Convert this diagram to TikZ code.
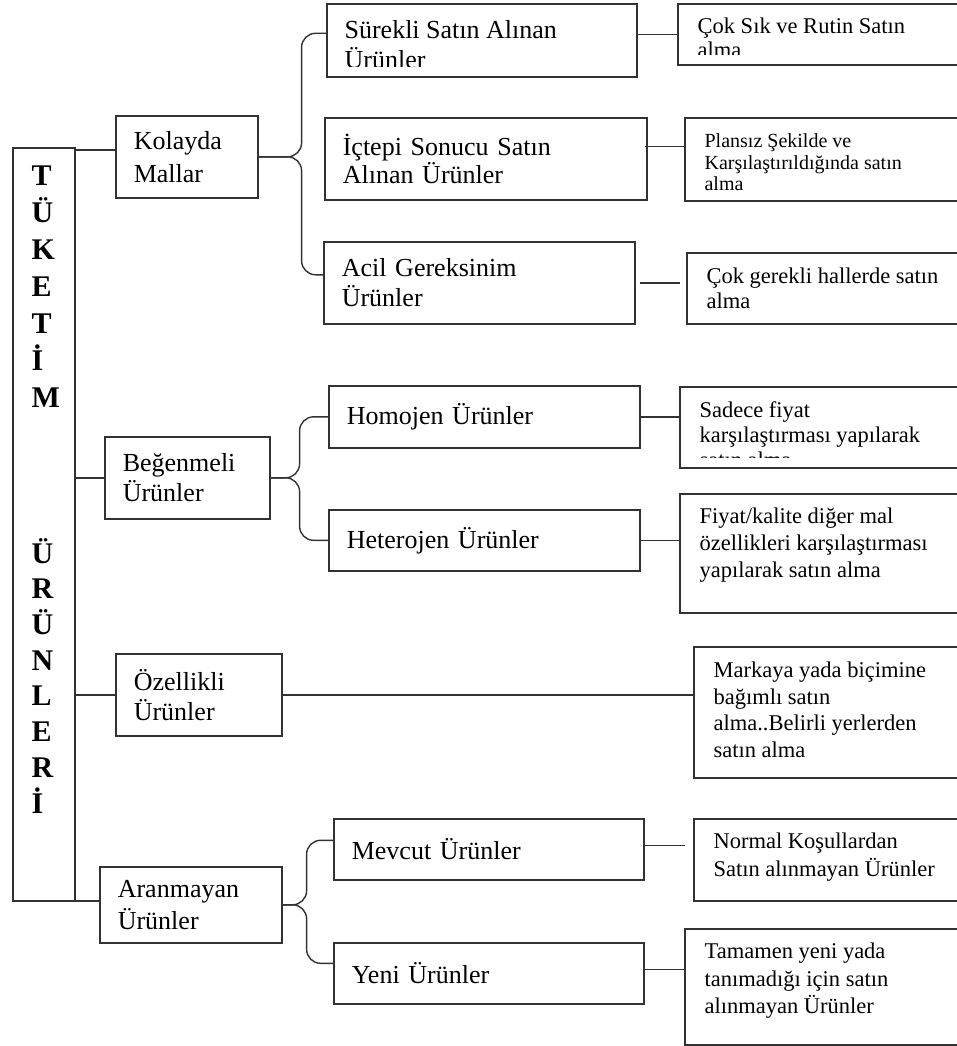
\documentclass[tikz,border=0pt]{standalone}
\usepackage{fontspec}
\setmainfont{Liberation Serif}
\usetikzlibrary{calc}
\definecolor{boxgray}{RGB}{50,50,50}
\tikzset{every picture/.style={line width=1.4pt}}
\tikzset{
  catbox/.style={draw=boxgray, line width=1.6pt, anchor=north west, align=left, inner xsep=18pt, inner ysep=0pt, font=\fontsize{26}{30}\selectfont},
  leafbox/.style={draw=boxgray, line width=1.6pt, anchor=north west, inner sep=0pt},
  leaftext/.style n args={3}{path picture={
      \clip (path picture bounding box.north west) rectangle ([yshift=10pt]path picture bounding box.south east);
      \node[anchor=base west, align=left, inner sep=0pt, minimum width=0pt, minimum height=0pt, font=#1] at ([xshift=19pt,yshift=-#2pt]path picture bounding box.north west) {#3};}},
  link/.style={draw=boxgray, line width=1.4pt},
  brace/.style={link, rounded corners=14pt},
  trunktext/.style={anchor=base west, align=left, inner sep=0pt},
}
\newcommand\leafsize{\fontsize{22.5}{27}\selectfont}

\begin{document}
\begin{tikzpicture}[x=1pt,y=1pt,yscale=-1,xscale=1]
\useasboundingbox (0,0) rectangle (957,1046);

%Trunk
\node[leafbox, minimum width=62pt, minimum height=753pt] (trunk) at (12,147) {};
% Text Node
\node[trunktext, font=\bfseries\fontsize{30}{37}\selectfont] (tuketim) at (31,407) {T\\Ü\\K\\E\\T\\İ\\M};
% Text Node
\node[trunktext, font=\bfseries\fontsize{30}{35.7}\selectfont] (urunleri) at (31,813) {Ü\\R\\Ü\\N\\L\\E\\R\\İ};

%Level 1
\node[catbox, text width=106pt, minimum height=82pt, font=\fontsize{26}{33}\selectfont] (kolayda) at (115,115) {Kolayda\\Mallar};
\node[catbox, text width=129pt, minimum height=82pt] (begen) at (104,436) {Beğenmeli\\Ürünler};
\node[catbox, text width=130pt, minimum height=82pt] (ozel) at (115,653) {Özellikli\\Ürünler};
\node[catbox, text width=146pt, minimum height=76pt, font=\fontsize{26}{32}\selectfont] (aran) at (99,866) {Aranmayan\\Ürünler};

%Level 2
\node[leafbox, minimum width=310pt, minimum height=73pt, leaftext={\fontsize{26}{30}\selectfont}{65}{\hspace*{-2pt}Sürekli Satın Alınan\\\hspace*{-2pt}Ürünler}] (surekli) at (326,3) {};
\node[catbox, text width=286pt, minimum height=82pt, font=\fontsize{26}{26}\selectfont] (ictepi) at (324,117) {İçtepi Sonucu Satın\\Alınan Ürünler};
\node[catbox, text width=275pt, minimum height=82pt] (acil) at (323,241) {Acil Gereksinim\\Ürünler};
\node[catbox, text width=275pt, minimum height=62pt] (homojen) at (328,385) {Homojen Ürünler};
\node[catbox, text width=275pt, minimum height=61pt] (hetero) at (328,509) {Heterojen Ürünler};
\node[catbox, text width=274pt, minimum height=61pt] (mevcut) at (333,818) {Mevcut Ürünler};
\node[catbox, text width=274pt, minimum height=61pt] (yeni) at (333,942) {Yeni Ürünler};

%Level 3
\node[leafbox, minimum width=283pt, minimum height=61pt, leaftext={\fontsize{22.5}{24}\selectfont}{54}{Çok Sık ve Rutin Satın\\alma}] (coksik) at (677,3) {};
\node[leafbox, minimum width=276pt, minimum height=83pt, leaftext={\fontsize{20}{21.5}\selectfont}{73}{Plansız Şekilde ve\\Karşılaştırıldığında satın\\alma}] (plansiz) at (684,117) {};
\node[leafbox, minimum width=274pt, minimum height=71pt, leaftext={\fontsize{22.5}{25}\selectfont}{56}{Çok gerekli hallerde satın\\alma}] (gerekli) at (686,252) {};
\node[leafbox, minimum width=281pt, minimum height=81pt, leaftext={\fontsize{22.5}{25}\selectfont}{81}{Sadece fiyat\\karşılaştırması yapılarak\\satın alma}] (sadece) at (679,386) {};
\node[leafbox, minimum width=281pt, minimum height=119pt, leaftext={\leafsize}{84}{Fiyat/kalite diğer mal\\özellikleri karşılaştırması\\yapılarak satın alma}] (fiyat) at (679,493) {};
\node[leafbox, minimum width=267pt, minimum height=131pt, leaftext={\fontsize{22.5}{26.5}\selectfont}{110.5}{Markaya yada biçimine\\bağımlı satın\\alma..Belirli yerlerden\\satın alma}] (markaya) at (693,646) {};
\node[leafbox, minimum width=267pt, minimum height=82pt, leaftext={\fontsize{22.5}{28}\selectfont}{58}{Normal Koşullardan\\Satın alınmayan Ürünler}] (normal) at (693,818) {};
\node[leafbox, minimum width=276pt, minimum height=116pt, leaftext={\fontsize{22.5}{27.5}\selectfont}{85}{Tamamen yeni yada\\tanımadığı için satın\\alınmayan Ürünler}] (tamamen) at (684,928) {};

%Straight Lines
\draw[link] ([yshift=-7pt]kolayda.west) -| (trunk.north east);
\draw[link] (begen.west) -- (begen.west -| trunk.east);
\draw[link] (ozel.west) -- (ozel.west -| trunk.east);
\draw[link] ([yshift=-4pt]aran.west) -| (trunk.south east);

%Curve Lines
\draw[brace] (kolayda.east) -- ++(43,0) |- ([yshift=-7pt]surekli.west);
\draw[brace] (kolayda.east) -- ++(43,0) |- ([yshift=-8pt]acil.west);
\draw[brace] (begen.east) -- ++(29,0) |- (homojen.west);
\draw[brace] (begen.east) -- ++(29,0) |- (hetero.west);
\draw[brace] (aran.east) -- ++(24,0) |- ([yshift=-9pt]mevcut.west);
\draw[brace] (aran.east) -- ++(24,0) |- ([yshift=-10pt]yeni.west);

%Straight Lines
\draw[link] (coksik.west) -- (coksik.west -| surekli.east);
\draw[link] ($(plansiz.west)+(0,-13)$) -- ($(plansiz.west -| ictepi.east)+(-3,-13)$);
\draw[link, shorten <=4pt, shorten >=6pt] (acil.east) -- (acil.east -| gerekli.west);
\draw[link] (homojen.east) -- (homojen.east -| sadece.west);
\draw[link] (hetero.east) -- (hetero.east -| fiyat.west);
\draw[link] (ozel.east) -- (ozel.east -| markaya.west);
\draw[link, shorten >=8pt] ($(mevcut.east)+(0,-4)$) -- ($(mevcut.east -| normal.west)+(0,-4)$);
\draw[link] ($(yeni.east)+(0,-4)$) -- ($(yeni.east -| tamamen.west)+(0,-4)$);

\end{tikzpicture}
\end{document}
